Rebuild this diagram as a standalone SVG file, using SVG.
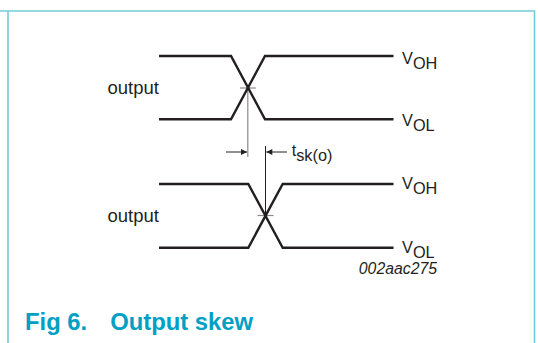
<svg xmlns="http://www.w3.org/2000/svg" width="538" height="343" viewBox="0 0 538 343">
<style>
.frame{fill:none;stroke:#72cbd8;stroke-width:1.6}
.wave{fill:none;stroke:#231f20;stroke-width:2.4;stroke-linejoin:miter}
.thin{fill:none;stroke:#231f20;stroke-width:1}
.gray{fill:none;stroke:#8a8a8a;stroke-width:1.2}
.lbl{font-family:"Liberation Sans",Arial,sans-serif;font-size:16.3px;fill:#231f20}
.out{font-family:"Liberation Sans",Arial,sans-serif;font-size:18.5px;fill:#231f20}
.code{font-family:"Liberation Sans",Arial,sans-serif;font-size:15.8px;font-style:italic;fill:#231f20}
.title{font-family:"Liberation Sans",Arial,sans-serif;font-size:23.8px;font-weight:bold;fill:#00a0c4}
</style>
<defs>
<marker id="ah" viewBox="0 0 10 10" refX="10" refY="5" markerWidth="9" markerHeight="6" markerUnits="userSpaceOnUse" orient="auto">
<path d="M0,0 L10,5 L0,10 z" fill="#231f20"/>
</marker>
</defs>
<g id="frame">
<path class="frame" d="M0,11 H534.5 V343 M8,11 V343"/>
</g>
<g id="connectors">
<line class="gray" x1="247.8" y1="88" x2="247.8" y2="157"/>
<line class="gray" x1="240" y1="88" x2="256" y2="88"/>
<line class="thin" x1="265.5" y1="146" x2="265.5" y2="215.5"/>
<line class="gray" x1="257.5" y1="215.5" x2="273.5" y2="215.5"/>
<line class="thin" x1="226" y1="152" x2="247" y2="152" marker-end="url(#ah)"/>
<line class="thin" x1="287" y1="152" x2="266.3" y2="152" marker-end="url(#ah)"/>
</g>
<g id="wave-top">
<path class="wave" d="M159,56 H231 L265,119.3 H393.5"/>
<path class="wave" d="M159,119.3 H231 L265,56 H393.5"/>
<text class="out" x="107.5" y="94.3">output</text>
<text class="lbl" x="402" y="63.5">V<tspan dy="5">OH</tspan></text>
<text class="lbl" x="402" y="126">V<tspan dy="5">OL</tspan></text>
</g>
<g id="skew-label">
<text class="lbl" x="291.7" y="155.7">t<tspan dy="5">sk(o)</tspan></text>
</g>
<g id="wave-bottom">
<path class="wave" d="M159,184 H248.3 L282.7,247.7 H393.5"/>
<path class="wave" d="M159,247.7 H248.3 L282.7,184 H393.5"/>
<text class="out" x="107.5" y="222">output</text>
<text class="lbl" x="402" y="189">V<tspan dy="5">OH</tspan></text>
<text class="lbl" x="402" y="253">V<tspan dy="4.5">OL</tspan></text>
<text class="code" x="437" y="274" text-anchor="end">002aac275</text>
</g>
<g id="caption">
<text class="title" x="25" y="330">Fig 6.</text>
<text class="title" x="110.2" y="330">Output skew</text>
</g>
</svg>
